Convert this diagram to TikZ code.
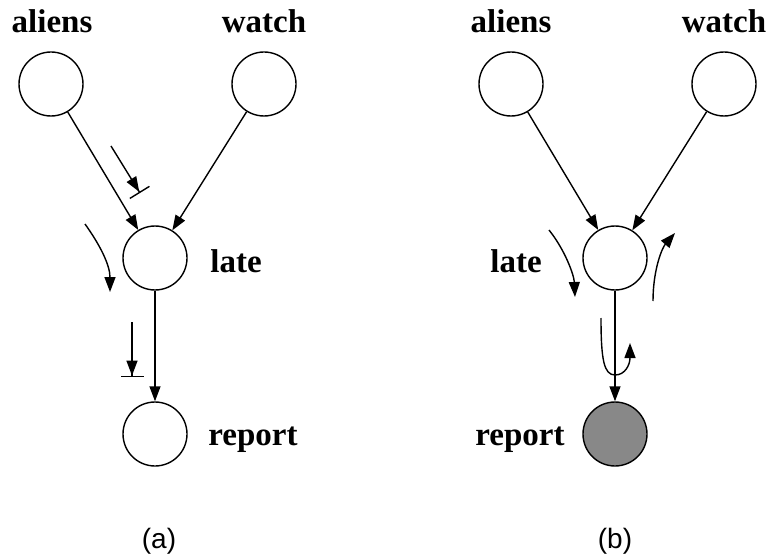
\documentclass[tikz,border=0pt]{standalone}
\usepackage{fontspec}
\setmainfont{Liberation Serif}
\newfontfamily\capfont{Liberation Sans}
\usetikzlibrary{arrows.meta}
\definecolor{evidgray}{RGB}{136,136,136}

\begin{document}
\begin{tikzpicture}[x=1pt, y=-1pt, line width=1.4pt,
  var/.style={circle, draw, minimum size=64pt, inner sep=0pt},
  lbl/.style={anchor=base, font=\fontsize{33}{33}\selectfont\bfseries},
  subcap/.style={font=\capfont\fontsize{28}{28}\selectfont},
  arr/.style={-{Triangle[length=15pt, width=11pt]}},
  blocked/.style={-{Triangle[length=15pt, width=11pt] Bar[width=23pt, sep=0pt]}}]
  \useasboundingbox (0,0) rectangle (769,559);

  % (a) nothing observed
  \node[var] (aliens) at (51, 84) {};
  \node[var] (watch) at (264, 84) {};
  \node[var] (late) at (155, 258) {};
  \node[var] (report) at (155, 434) {};
  \node[lbl] (aliensl) at (52, 33) {aliens};
  \node[lbl] (watchl) at (264, 33) {watch};
  \node[lbl] (latel) at (236, 272) {late};
  \node[lbl] (reportl) at (253, 445) {report};
  \draw[arr] (aliens) -- (late);
  \draw[arr] (watch) -- (late);
  \draw[arr] (late) -- (report);
  \coordinate (p1) at (111, 146);
  \coordinate (p2) at (140, 193);
  \draw[blocked] (p1) -- (p2);
  \coordinate (p3) at (85, 224);
  \coordinate (p4) at (110, 292);
  \draw[arr] (p3) .. controls (100, 245) and (110, 265) .. (p4);
  \coordinate (p5) at (132, 322);
  \coordinate (p6) at (132, 377);
  \draw[blocked] (p5) -- (p6);
  \node[subcap] (capa) at (159, 541) {(a)};

  % (b) report observed
  \node[var] (aliens2) at (511, 84) {};
  \node[var] (watch2) at (724, 84) {};
  \node[var] (late2) at (615, 258) {};
  \node[var, fill=evidgray] (report2) at (615, 434) {};
  \node[lbl] (aliens2l) at (511, 33) {aliens};
  \node[lbl] (watch2l) at (724, 33) {watch};
  \node[lbl] (late2l) at (516, 272) {late};
  \node[lbl] (report2l) at (520, 445) {report};
  \draw[arr] (aliens2) -- (late2);
  \draw[arr] (watch2) -- (late2);
  \draw[arr] (late2) -- (report2);
  \coordinate (q1) at (549, 230);
  \coordinate (q2) at (575, 297);
  \draw[arr] (q1) .. controls (565, 250) and (574, 275) .. (q2);
  \coordinate (q3) at (653, 301);
  \coordinate (q4) at (675, 233);
  \draw[arr] (q3) .. controls (653, 270) and (662, 248) .. (q4);
  \coordinate (q5) at (601, 318);
  \coordinate (q6) at (615, 375);
  \coordinate (q7) at (630, 343);
  \draw[arr] (q5) .. controls (601, 360) and (604, 375) .. (q6)
    .. controls (625, 375) and (630, 365) .. (q7);
  \node[subcap] (capb) at (615, 541) {(b)};
\end{tikzpicture}
\end{document}
